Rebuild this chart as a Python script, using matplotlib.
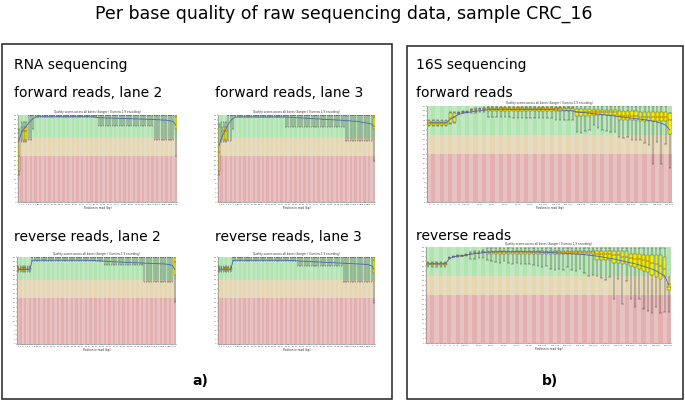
import matplotlib
matplotlib.use("Agg")
import matplotlib.pyplot as plt
from matplotlib.patches import Rectangle
import numpy as np

W, H = 685, 401

# bin labels (FastQC style grouping)
rna_labels = [str(i) for i in range(1, 10)] + [f"{s}-{s+1}" for s in range(10, 125, 2)] + ["126"]
s16_labels = [str(i) for i in range(1, 10)] + [f"{s}-{s+4}" for s in range(10, 250, 5)] + ["250-251"]

# ---- RNA forward, lane 2 ----
f2_mean = [27, 30.5, 32, 33, 34.5, 35.5, 36.5, 37, 37.2, 37.2,
           37.2, 37.2, 37.2, 37.2, 37.2, 37.2, 37.2, 37.2, 37.2, 37.2,
           37.2, 37.2, 37.2, 37.2, 37.2, 37.2, 37.2, 37.2, 37.2, 37.2,
           37.2, 37.2, 37.1, 37.0, 36.8, 36.8, 36.8, 36.7, 36.7, 36.7,
           36.6, 36.6, 36.6, 36.5, 36.5, 36.5, 36.4, 36.4, 36.4, 36.3,
           36.3, 36.3, 36.2, 36.2, 36.2, 36.1, 36.1, 36.0, 36.0, 35.9,
           35.9, 35.8, 35.8, 35.7, 35.6, 35.4, 35.0, 33.5]
f2_q3 = [26.5, 32.8, 32.8, 32.8, 38, 38, 38, 38, 38, 38,
         38, 38, 38, 38, 38, 38, 38, 38, 38, 38,
         38, 38, 38, 38, 38, 38, 38, 38, 38, 38,
         38, 38, 38, 38, 38, 38, 38, 38, 38, 38,
         38, 38, 38, 38, 38, 38, 38, 38, 38, 38,
         38, 38, 38, 38, 38, 38, 38, 38, 38, 38,
         38, 38, 38, 38, 38, 38, 38, 38]
f2_q1 = [13.7, 27.2, 27.2, 27.2, 38, 38, 38, 38, 38, 38,
         38, 38, 38, 38, 38, 38, 38, 38, 38, 38,
         38, 38, 38, 38, 38, 38, 38, 38, 38, 38,
         38, 38, 38, 38, 38, 38, 38, 38, 38, 38,
         38, 38, 38, 38, 38, 38, 38, 38, 38, 38,
         38, 38, 38, 38, 38, 38, 38, 38, 38, 38,
         38, 38, 38, 38, 38, 38, 38, 32]
f2_med = [20, 31, 31, 31, 38, 38, 38, 38, 38, 38,
          38, 38, 38, 38, 38, 38, 38, 38, 38, 38,
          38, 38, 38, 38, 38, 38, 38, 38, 38, 38,
          38, 38, 38, 38, 38, 38, 38, 38, 38, 38,
          38, 38, 38, 38, 38, 38, 38, 38, 38, 38,
          38, 38, 38, 38, 38, 38, 38, 38, 38, 38,
          38, 38, 38, 38, 38, 38, 38, 37]
f2_p90 = [32, 35, 35, 35, 38, 38, 38, 38, 38, 38,
          38, 38, 38, 38, 38, 38, 38, 38, 38, 38,
          38, 38, 38, 38, 38, 38, 38, 38, 38, 38,
          38, 38, 38, 38, 38, 38, 38, 38, 38, 38,
          38, 38, 38, 38, 38, 38, 38, 38, 38, 38,
          38, 38, 38, 38, 38, 38, 38, 38, 38, 38,
          38, 38, 38, 38, 38, 38, 38, 38]
f2_p10 = [12, 26, 26, 26, 27, 27, 32, 37, 37, 37,
          37, 37, 37, 37, 37, 37, 37, 37, 37, 37,
          37, 37, 37, 37, 37, 37, 37, 37, 37, 37,
          37, 37, 37, 37, 33, 33, 33, 33, 33, 33,
          33, 33, 33, 33, 33, 33, 33, 33, 33, 33,
          33, 33, 33, 33, 33, 33, 33, 33, 27, 27,
          27, 27, 27, 27, 27, 27, 27, 20]

# ---- RNA forward, lane 3 ----
f3_mean = [24.7, 28, 30, 32, 34, 35.5, 36.5, 37, 37.1, 37.1,
           37.1, 37.1, 37.1, 37.1, 37.1, 37.1, 37.1, 37.1, 37.1, 37.1,
           37.1, 37.1, 37.1, 37.1, 37.1, 37.1, 37.1, 37.1, 37.1, 37.1,
           37.1, 37.0, 37.0, 36.9, 36.8, 36.8, 36.7, 36.6, 36.6, 36.5,
           36.4, 36.4, 36.3, 36.3, 36.2, 36.1, 36.1, 36.0, 36.0, 35.9,
           35.9, 35.8, 35.8, 35.7, 35.6, 35.5, 35.5, 35.4, 35.3, 35.3,
           35.2, 35.0, 34.8, 34.6, 34.5, 34.3, 34.0, 33.0]
f3_q3 = [32.7, 32.7, 32.7, 32.7, 38, 38, 38, 38, 38, 38,
         38, 38, 38, 38, 38, 38, 38, 38, 38, 38,
         38, 38, 38, 38, 38, 38, 38, 38, 38, 38,
         38, 38, 38, 38, 38, 38, 38, 38, 38, 38,
         38, 38, 38, 38, 38, 38, 38, 38, 38, 38,
         38, 38, 38, 38, 38, 38, 38, 38, 38, 38,
         38, 38, 38, 38, 38, 38, 38, 38]
f3_q1 = [13.6, 27.2, 27.2, 27.2, 38, 38, 38, 38, 38, 38,
         38, 38, 38, 38, 38, 38, 38, 38, 38, 38,
         38, 38, 38, 38, 38, 38, 38, 38, 38, 38,
         38, 38, 38, 38, 38, 38, 38, 38, 38, 38,
         38, 38, 38, 38, 38, 38, 38, 38, 38, 38,
         38, 38, 38, 38, 38, 38, 38, 38, 38, 38,
         38, 38, 38, 38, 38, 38, 38, 32]
f3_med = [22, 31, 31, 31, 38, 38, 38, 38, 38, 38,
          38, 38, 38, 38, 38, 38, 38, 38, 38, 38,
          38, 38, 38, 38, 38, 38, 38, 38, 38, 38,
          38, 38, 38, 38, 38, 38, 38, 38, 38, 38,
          38, 38, 38, 38, 38, 38, 38, 38, 38, 38,
          38, 38, 38, 38, 38, 38, 38, 38, 38, 38,
          38, 38, 38, 38, 38, 38, 38, 37]
f3_p90 = [34, 35, 35, 35, 38, 38, 38, 38, 38, 38,
          38, 38, 38, 38, 38, 38, 38, 38, 38, 38,
          38, 38, 38, 38, 38, 38, 38, 38, 38, 38,
          38, 38, 38, 38, 38, 38, 38, 38, 38, 38,
          38, 38, 38, 38, 38, 38, 38, 38, 38, 38,
          38, 38, 38, 38, 38, 38, 38, 38, 38, 38,
          38, 38, 38, 38, 38, 38, 38, 38]
f3_p10 = [12, 26, 26, 26, 26.8, 26.8, 32, 37, 37, 37,
          37, 37, 37, 37, 37, 37, 37, 37, 37, 37,
          37, 37, 37, 37, 37, 37, 37, 37, 37, 32.7,
          32.7, 32.7, 32.7, 32.7, 32.7, 32.7, 32.7, 32.7, 32.7, 32.7,
          32.7, 32.7, 32.7, 32.7, 32.7, 32.7, 32.7, 32.7, 32.7, 32.7,
          32.7, 32.7, 32.7, 32.7, 32.7, 26.8, 26.8, 26.8, 26.8, 26.8,
          26.8, 26.8, 26.8, 26.8, 26.8, 26.8, 26.8, 18]

# ---- RNA reverse, lane 2 ----
r2_mean = [32.5, 32.5, 32.5, 32.5, 32.5, 32.5, 36.5, 36.6, 36.6, 36.6,
           36.6, 36.6, 36.6, 36.6, 36.6, 36.6, 36.6, 36.6, 36.6, 36.6,
           36.6, 36.6, 36.6, 36.6, 36.6, 36.6, 36.6, 36.6, 36.6, 36.6,
           36.6, 36.5, 36.5, 36.4, 36.3, 36.3, 36.2, 36.2, 36.1, 36.0,
           36.0, 35.9, 35.9, 35.8, 35.8, 35.7, 35.7, 35.6, 35.6, 35.5,
           35.5, 35.5, 35.4, 35.4, 35.3, 35.3, 35.2, 35.2, 35.2, 35.1,
           35.1, 35.0, 35.0, 34.9, 34.8, 34.6, 34.3, 32.5]
r2_q3 = [33, 33, 33, 33, 33, 33, 38, 38, 38, 38,
         38, 38, 38, 38, 38, 38, 38, 38, 38, 38,
         38, 38, 38, 38, 38, 38, 38, 38, 38, 38,
         38, 38, 38, 38, 38, 38, 38, 38, 38, 38,
         38, 38, 38, 38, 38, 38, 38, 38, 38, 38,
         38, 38, 38, 38, 38, 38, 38, 38, 38, 38,
         38, 38, 38, 38, 38, 38, 38, 38]
r2_q1 = [32.5, 32.5, 32.5, 32.5, 32.5, 32.5, 38, 38, 38, 38,
         38, 38, 38, 38, 38, 38, 38, 38, 38, 38,
         38, 38, 38, 38, 38, 38, 38, 38, 38, 38,
         38, 38, 38, 38, 38, 38, 38, 38, 38, 38,
         38, 38, 38, 38, 38, 38, 38, 38, 38, 38,
         38, 38, 38, 38, 38, 38, 38, 38, 38, 38,
         38, 38, 38, 38, 38, 38, 38, 30]
r2_med = [33, 33, 33, 33, 33, 33, 38, 38, 38, 38,
          38, 38, 38, 38, 38, 38, 38, 38, 38, 38,
          38, 38, 38, 38, 38, 38, 38, 38, 38, 38,
          38, 38, 38, 38, 38, 38, 38, 38, 38, 38,
          38, 38, 38, 38, 38, 38, 38, 38, 38, 38,
          38, 38, 38, 38, 38, 38, 38, 38, 38, 38,
          38, 38, 38, 38, 38, 38, 38, 36]
r2_p90 = [34, 34, 34, 34, 34, 34, 38, 38, 38, 38,
          38, 38, 38, 38, 38, 38, 38, 38, 38, 38,
          38, 38, 38, 38, 38, 38, 38, 38, 38, 38,
          38, 38, 38, 38, 38, 38, 38, 38, 38, 38,
          38, 38, 38, 38, 38, 38, 38, 38, 38, 38,
          38, 38, 38, 38, 38, 38, 38, 38, 38, 38,
          38, 38, 38, 38, 38, 38, 38, 38]
r2_p10 = [31.5, 31.5, 31.5, 31.5, 31.5, 31.5, 36.2, 36.2, 36.2, 36.2,
          36.2, 36.2, 36.2, 36.2, 36.2, 36.2, 36.2, 36.2, 36.2, 36.2,
          36.2, 36.2, 36.2, 36.2, 36.2, 36.2, 36.2, 36.2, 36.2, 36.2,
          36.2, 36.2, 36.2, 36.2, 36.2, 36.2, 36.2, 34.5, 34.5, 34.5,
          34.5, 34.5, 34.5, 34.5, 34.5, 34.5, 34.5, 34.5, 34.5, 34.5,
          34.5, 34.5, 34.5, 34.5, 27, 27, 27, 27, 27, 27,
          27, 27, 27, 27, 27, 27, 27, 18.4]

# ---- RNA reverse, lane 3 ----
r3_mean = [32.4, 32.4, 32.4, 32.4, 32.4, 32.4, 36.4, 36.6, 36.6, 36.6,
           36.6, 36.6, 36.6, 36.6, 36.6, 36.6, 36.6, 36.6, 36.6, 36.6,
           36.6, 36.6, 36.6, 36.6, 36.6, 36.6, 36.6, 36.6, 36.6, 36.6,
           36.5, 36.5, 36.4, 36.4, 36.3, 36.2, 36.2, 36.1, 36.1, 36.0,
           36.0, 35.9, 35.9, 35.8, 35.8, 35.7, 35.7, 35.6, 35.6, 35.5,
           35.5, 35.4, 35.4, 35.3, 35.3, 35.2, 35.2, 35.1, 35.1, 35.0,
           35.0, 34.9, 34.9, 34.8, 34.7, 34.5, 34.2, 32.8]
r3_q3 = [33, 33, 33, 33, 33, 33, 38, 38, 38, 38,
         38, 38, 38, 38, 38, 38, 38, 38, 38, 38,
         38, 38, 38, 38, 38, 38, 38, 38, 38, 38,
         38, 38, 38, 38, 38, 38, 38, 38, 38, 38,
         38, 38, 38, 38, 38, 38, 38, 38, 38, 38,
         38, 38, 38, 38, 38, 38, 38, 38, 38, 38,
         38, 38, 38, 38, 38, 38, 38, 38]
r3_q1 = [32.5, 32.5, 32.5, 32.5, 32.5, 32.5, 38, 38, 38, 38,
         38, 38, 38, 38, 38, 38, 38, 38, 38, 38,
         38, 38, 38, 38, 38, 38, 38, 38, 38, 38,
         38, 38, 38, 38, 38, 38, 38, 38, 38, 38,
         38, 38, 38, 38, 38, 38, 38, 38, 38, 38,
         38, 38, 38, 38, 38, 38, 38, 38, 38, 38,
         38, 38, 38, 38, 38, 38, 38, 31]
r3_med = [33, 33, 33, 33, 33, 33, 38, 38, 38, 38,
          38, 38, 38, 38, 38, 38, 38, 38, 38, 38,
          38, 38, 38, 38, 38, 38, 38, 38, 38, 38,
          38, 38, 38, 38, 38, 38, 38, 38, 38, 38,
          38, 38, 38, 38, 38, 38, 38, 38, 38, 38,
          38, 38, 38, 38, 38, 38, 38, 38, 38, 38,
          38, 38, 38, 38, 38, 38, 38, 36.5]
r3_p90 = [34, 34, 34, 34, 34, 34, 38, 38, 38, 38,
          38, 38, 38, 38, 38, 38, 38, 38, 38, 38,
          38, 38, 38, 38, 38, 38, 38, 38, 38, 38,
          38, 38, 38, 38, 38, 38, 38, 38, 38, 38,
          38, 38, 38, 38, 38, 38, 38, 38, 38, 38,
          38, 38, 38, 38, 38, 38, 38, 38, 38, 38,
          38, 38, 38, 38, 38, 38, 38, 38]
r3_p10 = [31.5, 31.5, 31.5, 31.5, 31.5, 31.5, 36.2, 36.2, 36.2, 36.2,
          36.2, 36.2, 36.2, 36.2, 36.2, 36.2, 36.2, 36.2, 36.2, 36.2,
          36.2, 36.2, 36.2, 36.2, 36.2, 36.2, 36.2, 36.2, 36.2, 36.2,
          36.2, 36.2, 36.2, 36.2, 34, 34, 34, 34, 34, 34,
          34, 34, 34, 34, 34, 34, 34, 34, 34, 34,
          34, 34, 34, 34, 27, 27, 27, 27, 27, 27,
          27, 27, 27, 27, 27, 27, 27, 18]

# ---- 16S forward ----
s16f_mean = [33, 33, 33, 33, 33, 34.5, 35.5, 36.5, 37, 37.3,
             37.6, 37.8, 38, 38.2, 38.5, 38.5, 38.5, 38.5, 38.5, 38.5,
             38.5, 38.5, 38.5, 38.5, 38.5, 38.5, 38.5, 38.5, 38.5, 38.5,
             38.4, 38.3, 38.2, 38.1, 38, 37.5, 37.3, 37.2, 37, 36.8,
             36.6, 36.4, 36.2, 36, 35.8, 35.5, 35.3, 35.1, 34.9, 34.7,
             34.5, 34.3, 34, 33.7, 33.3, 32.8, 32, 30]
s16f_q3 = [33.8, 33.8, 33.8, 33.8, 33.8, 37, 37, 37.2, 37.4, 37.6,
           38.2, 38.4, 38.6, 38.8, 39.3, 39.3, 39.3, 39.3, 39.3, 39.3,
           39.3, 39.3, 39.3, 39.3, 39.3, 39.3, 39.3, 39.3, 39.3, 39.3,
           39.3, 39.3, 39.3, 39.3, 39.3, 38.8, 38.8, 38.8, 38.8, 38.5,
           38.5, 38.5, 38.5, 38.5, 38.5, 37.8, 37.8, 37.8, 37.8, 37.8,
           37.4, 37.4, 37.4, 37.4, 37.4, 37.4, 37.4, 37]
s16f_q1 = [32.1, 32.1, 32.1, 32.1, 32.1, 33, 33.5, 37.2, 37.4, 37.6,
           38.2, 38.4, 38.6, 38.8, 38, 38, 38, 38, 38, 38,
           38, 38, 38, 38, 38, 38, 38, 38, 38, 38,
           38, 38, 38, 38, 38, 35.8, 35.8, 35.8, 35.8, 36.3,
           36.3, 36.3, 36.3, 36.3, 36.3, 34.2, 34.2, 34.2, 34.2, 34.2,
           33.9, 33.9, 33.9, 33.9, 33.9, 33.9, 33.9, 28.2]
s16f_med = [33, 33, 33, 33, 33, 35, 35.5, 37.2, 37.4, 37.6,
            38.2, 38.4, 38.6, 38.8, 39, 39, 39, 39, 39, 39,
            39, 39, 39, 39, 39, 39, 39, 39, 39, 39,
            39, 39, 39, 39, 39, 37.5, 37.5, 37.5, 37.5, 37.5,
            37.5, 37.5, 37.5, 37.5, 37.5, 36, 36, 36, 36, 36,
            35.5, 35.5, 35.5, 35.5, 35.5, 35.5, 35.5, 34]
s16f_p90 = [34, 34, 34, 34, 34, 37.5, 37.5, 37.6, 37.8, 38,
            38.8, 39, 39.2, 39.4, 40, 40, 40, 40, 40, 40,
            40, 40, 40, 40, 40, 40, 40, 40, 40, 40,
            40, 40, 40, 40, 40, 40, 40, 40, 40, 40,
            40, 40, 40, 40, 40, 40, 40, 40, 40, 40,
            40, 40, 40, 40, 40, 40, 40, 37]
s16f_p10 = [31.8, 31.8, 31.8, 31.8, 31.8, 32.5, 33, 36.8, 37, 37.2,
            37, 37.2, 37.4, 37.6, 35.5, 35.5, 35.5, 35.5, 35.5, 35.5,
            35, 35, 35, 35, 35, 35, 35, 35, 35, 35,
            34, 34, 34, 34, 34, 29, 28.6, 29.5, 30, 32,
            31, 30, 29.5, 29, 29.3, 27, 26.5, 27.2, 26, 25.8,
            25.8, 24.5, 23.7, 16, 25, 16, 24, 14]

# ---- 16S reverse ----
s16r_mean = [33, 33, 33, 33, 33, 35, 36, 36.2, 36.4, 36.6,
             37, 37.2, 37.4, 37.6, 37.8, 37.9, 38, 38, 38, 38,
             38, 38, 38, 38, 38, 37.9, 37.9, 37.8, 37.8, 37.7,
             37.6, 37.5, 37.4, 37.3, 37.2, 37.1, 37, 36.8, 36.6, 36.4,
             36.2, 35.9, 35.6, 35.3, 35, 34.6, 34.2, 33.8, 33.4, 33,
             32.5, 32, 31.4, 30.8, 30, 29, 28, 24]
s16r_q3 = [33.4, 33.4, 33.4, 33.4, 33.4, 35.5, 36, 36.2, 36.4, 36.6,
           37.2, 37.4, 37.6, 37.8, 38.5, 38.5, 38.5, 38.5, 38.5, 38.5,
           38.5, 38.5, 38.5, 38.5, 38.5, 38.5, 38.5, 38.5, 38.5, 38.5,
           38.5, 38.5, 38.5, 38.5, 38.5, 38.5, 38.5, 38.5, 38.5, 38.5,
           38.2, 38.2, 38.2, 38.2, 38.2, 38.2, 38.2, 38.2, 37.1, 37.1,
           37.1, 36.8, 36.8, 36.5, 36.5, 36.5, 36, 24.7]
s16r_q1 = [32.3, 32.3, 32.3, 32.3, 32.3, 35.5, 36, 36.2, 36.4, 36.6,
           37.2, 37.4, 37.6, 37.8, 37.1, 37.1, 37.1, 37.1, 37.1, 37.1,
           37.1, 37.1, 37.1, 37.1, 37.1, 36.9, 36.9, 36.9, 36.9, 36.9,
           36.9, 36.9, 36.9, 36.9, 36.9, 36.9, 36.9, 36.9, 36.9, 36.9,
           34.4, 34.4, 34.4, 34.4, 33.5, 33.5, 33, 33, 32, 31.5,
           31, 30, 29.5, 28.5, 27.5, 26.8, 27.5, 22]
s16r_med = [33, 33, 33, 33, 33, 35.5, 36, 36.2, 36.4, 36.6,
            37.2, 37.4, 37.6, 37.8, 38, 38, 38, 38, 38, 38,
            38, 38, 38, 38, 38, 38, 38, 38, 38, 38,
            38, 38, 38, 38, 38, 38, 38, 38, 38, 38,
            37, 37, 37, 37, 36.5, 36.5, 36, 36, 35.5, 35,
            35, 34.5, 34, 33.5, 33, 32, 31, 23.5]
s16r_p90 = [33.8, 33.8, 33.8, 33.8, 33.8, 35.8, 36.3, 36.5, 36.7, 36.9,
            38, 38.2, 38.4, 38.6, 39.5, 39.5, 39.5, 39.5, 39.5, 39.5,
            39.5, 39.5, 39.5, 39.5, 39.5, 39.5, 39.5, 39.5, 39.5, 39.5,
            39.5, 39.5, 39.5, 39.5, 39.5, 39.5, 39.5, 39.5, 39.5, 39.5,
            39.5, 39.5, 39.5, 39.5, 39.5, 39.5, 39.5, 39.5, 39.5, 39.5,
            39.5, 39.5, 39.5, 39.5, 39.5, 39.5, 39.5, 27.5]
s16r_p10 = [31.6, 31.6, 31.6, 31.6, 31.6, 35.5, 35.8, 36, 36.2, 36.4,
            35, 35.2, 35.4, 35.6, 34.4, 34, 33.8, 33.5, 34, 33.2,
            33, 33.5, 33, 32.8, 33, 32.5, 32, 31.5, 32, 31,
            30.5, 31, 30.3, 31.5, 30.3, 30, 30.8, 29, 28, 28.5,
            28.1, 27, 26.1, 27.5, 18.5, 26.5, 16.4, 26, 18.5, 15,
            18.5, 14, 13.5, 12.5, 15, 12.3, 13, 13]

GOOD = [(195/255, 230/255, 195/255), (175/255, 230/255, 175/255)]
BAD = [(230/255, 220/255, 195/255), (230/255, 215/255, 175/255)]
UGLY = [(230/255, 195/255, 195/255), (230/255, 175/255, 175/255)]
YELLOW = (240/255, 240/255, 0)
TITLE = "Quality scores across all bases (Sanger / Illumina 1.9 encoding)"


def add_ax(fig, x0, y0, x1, y1):
    return fig.add_axes([x0 / W, 1 - y1 / H, (x1 - x0) / W, (y1 - y0) / H])


def fastqc_plot(ax, labels, mean, p10, q1, med, q3, p90, ymax):
    n = len(labels)
    x = np.arange(1, n + 1)
    par = [i % 2 for i in range(n)]
    ax.bar(x, 20, bottom=0, width=1, color=[UGLY[p] for p in par], linewidth=0)
    ax.bar(x, 8, bottom=20, width=1, color=[BAD[p] for p in par], linewidth=0)
    ax.bar(x, ymax - 28, bottom=28, width=1, color=[GOOD[p] for p in par], linewidth=0)

    q1 = np.array(q1)
    q3 = np.array(q3)
    ax.vlines(x, p10, q1, color="#333333", lw=0.35)
    ax.vlines(x, q3, p90, color="#333333", lw=0.35)
    ax.hlines(p10, x - 0.3, x + 0.3, color="#333333", lw=0.3)
    ax.hlines(p90, x - 0.3, x + 0.3, color="#333333", lw=0.3)
    ax.bar(x, q3 - q1, bottom=q1, width=0.8, color=YELLOW,
           edgecolor="#444444", linewidth=0.25)
    ax.hlines(med, x - 0.4, x + 0.4, color="#c80000", lw=0.35)
    ax.plot(x, mean, color="#4a64c0", lw=0.6)

    ax.set_xlim(0.5, n + 0.5)
    ax.set_ylim(0, ymax)
    ax.set_yticks(range(0, ymax + 1, 2))
    idx = list(range(9)) + list(range(9, n, 3))
    ax.set_xticks(x[idx])
    ax.set_xticklabels([labels[i] for i in idx], fontsize=1.6)
    ax.tick_params(axis="y", labelsize=1.6)
    ax.tick_params(length=0.8, width=0.3, pad=0.5, colors="#555555")
    for s in ("top", "right"):
        ax.spines[s].set_visible(False)
    for s in ("left", "bottom"):
        ax.spines[s].set_linewidth(0.4)
        ax.spines[s].set_color("#777777")
    ax.set_title(TITLE, fontsize=2.0, pad=1.2, color="#333333")
    ax.set_xlabel("Position in read (bp)", fontsize=2.0, labelpad=0.6, color="#333333")


fig = plt.figure(figsize=(W / 100, H / 100), dpi=100)

fig.text(344 / W, 1 - 14 / H, "Per base quality of raw sequencing data, sample CRC_16",
         ha="center", va="center", fontsize=12.5)

# panel frames
for x0, y0, x1, y1 in [(2, 44, 392, 399), (407, 46, 683, 399)]:
    fig.patches.append(Rectangle((x0 / W, 1 - y1 / H), (x1 - x0) / W, (y1 - y0) / H,
                                 transform=fig.transFigure, fill=False,
                                 lw=1.1, ec="#222222"))

texts = [
    (14, 65, "RNA sequencing"),
    (14, 93, "forward reads, lane 2"),
    (215, 93, "forward reads, lane 3"),
    (14, 237, "reverse reads, lane 2"),
    (215, 237, "reverse reads, lane 3"),
    (416, 65, "16S sequencing"),
    (416, 93, "forward reads"),
    (416, 236, "reverse reads"),
]
for tx, ty, s in texts:
    fig.text(tx / W, 1 - ty / H, s, ha="left", va="center", fontsize=10)

fig.text(200 / W, 1 - 381 / H, "a)", ha="center", va="center", fontsize=10, fontweight="bold")
fig.text(550 / W, 1 - 381 / H, "b)", ha="center", va="center", fontsize=10, fontweight="bold")

ax = add_ax(fig, 18, 115, 177, 202)
fastqc_plot(ax, rna_labels, f2_mean, f2_p10, f2_q1, f2_med, f2_q3, f2_p90, 38)
ax = add_ax(fig, 218, 115, 375, 202)
fastqc_plot(ax, rna_labels, f3_mean, f3_p10, f3_q1, f3_med, f3_q3, f3_p90, 38)
ax = add_ax(fig, 17, 257, 176, 344)
fastqc_plot(ax, rna_labels, r2_mean, r2_p10, r2_q1, r2_med, r2_q3, r2_p90, 38)
ax = add_ax(fig, 218, 257, 375, 344)
fastqc_plot(ax, rna_labels, r3_mean, r3_p10, r3_q1, r3_med, r3_q3, r3_p90, 38)
ax = add_ax(fig, 427, 106, 672, 202)
fastqc_plot(ax, s16_labels, s16f_mean, s16f_p10, s16f_q1, s16f_med, s16f_q3, s16f_p90, 40)
ax = add_ax(fig, 426, 247, 671, 343)
fastqc_plot(ax, s16_labels, s16r_mean, s16r_p10, s16r_q1, s16r_med, s16r_q3, s16r_p90, 40)

fig.savefig("out.png", dpi=100)
